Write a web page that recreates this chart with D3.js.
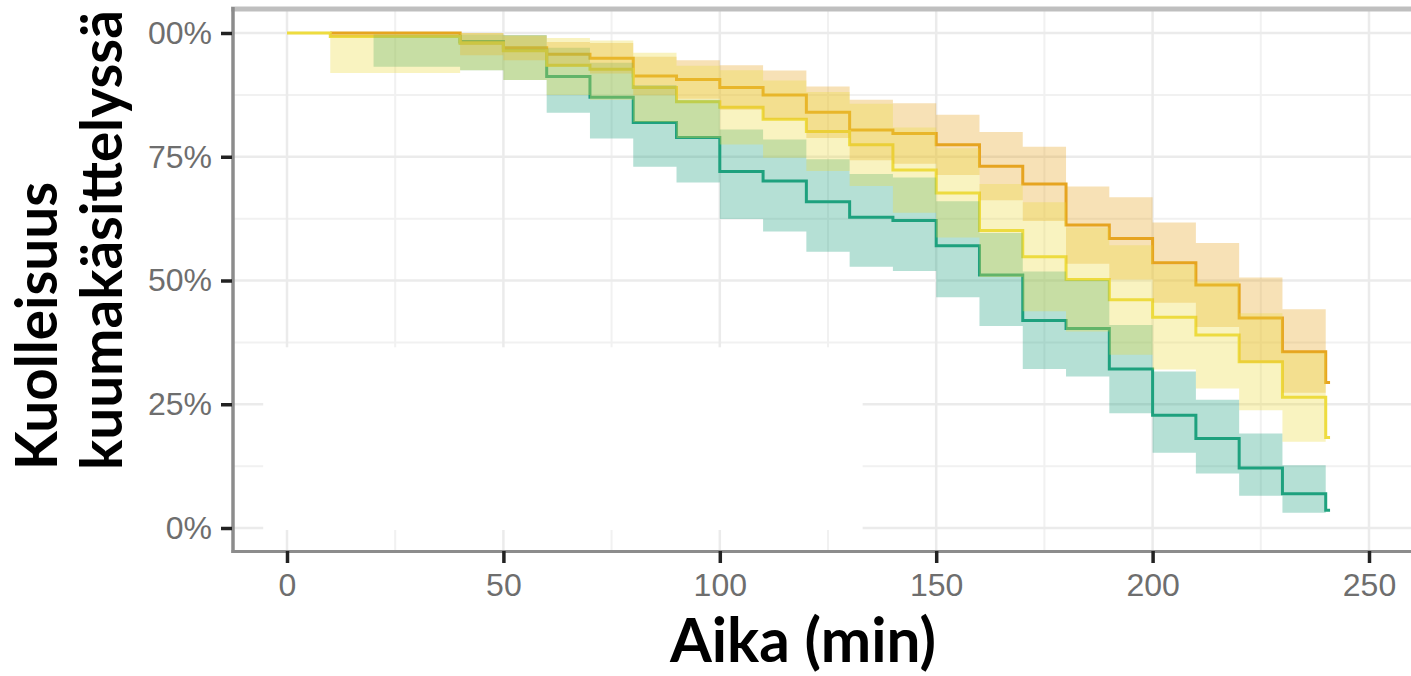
<!DOCTYPE html>
<html>
<head>
<meta charset="utf-8">
<script src="https://cdn.jsdelivr.net/npm/d3@7"></script>
<style>
  body { margin: 0; background: #fff; }
  svg { display: block; }
  .tick text { font-family: "Liberation Sans", Arial, sans-serif; fill: #6e6e6e; }
  .title { font-family: Lato, "Open Sans", sans-serif; font-weight: 700; fill: #000; }
</style>
</head>
<body>
<div id="chart"></div>
<script>
// axis ticks
var xTicks = [0, 50, 100, 150, 200, 250];
var xMinor = [25, 75, 125, 175, 225];
var yTicks = [0, 0.25, 0.5, 0.75, 1];
var yMinor = [0.125, 0.375, 0.625, 0.875];
var yTickLabels = ['0%', '25%', '50%', '75%', '100%'];

// green group (survival %, with confidence band)
var greenTime  = [20, 40, 50, 60, 70, 80, 90, 100, 110, 120, 130, 140, 150, 160, 170, 180, 190, 200, 210, 220, 230, 240];
var greenSurv  = [99.3, 98.3, 96.5, 91.2, 87.0, 81.9, 78.9, 72.0, 70.1, 65.9, 62.8, 62.1, 57.0, 51.1, 41.9, 40.3, 32.1, 22.8, 18.1, 12.1, 6.9, 3.6];
var greenUpper = [99.7, 99.7, 99.6, 97.0, 94.0, 89.5, 86.5, 80.5, 78.5, 74.5, 71.5, 70.8, 66.0, 59.6, 51.8, 50.1, 41.0, 31.6, 25.9, 19.1, 12.7, 3.6];
var greenLower = [93.2, 92.5, 90.5, 83.9, 78.7, 73.0, 69.8, 62.4, 59.9, 55.8, 52.8, 51.9, 46.6, 40.8, 32.1, 30.6, 23.2, 15.2, 11.0, 6.5, 3.1, 3.6];

// orange group
var orangeTime  = [10, 40, 50, 60, 70, 80, 90, 100, 110, 120, 130, 140, 150, 160, 170, 180, 190, 200, 210, 220, 230, 240];
var orangeSurv  = [100, 98.0, 97.0, 95.7, 94.9, 91.3, 90.6, 89.0, 87.5, 84.0, 80.4, 79.7, 77.4, 73.1, 69.5, 61.2, 58.5, 53.6, 49.1, 42.4, 35.6, 29.4];
var orangeUpper = [100, 100, 99.5, 98.2, 98.0, 95.2, 94.5, 93.5, 92.4, 89.2, 86.5, 85.8, 83.5, 80.0, 77.0, 69.0, 66.8, 61.7, 57.6, 50.6, 44.2, 29.4];
var orangeLower = [99.2, 95.5, 94.5, 93.2, 91.8, 87.4, 86.7, 84.5, 82.6, 78.8, 74.3, 73.6, 71.3, 66.2, 62.0, 53.4, 50.2, 45.5, 40.6, 33.4, 27.3, 29.4];

// yellow group
var yellowTime  = [0, 10, 40, 50, 60, 70, 80, 90, 100, 110, 120, 130, 140, 150, 160, 170, 180, 190, 200, 210, 220, 230, 240];
var yellowSurv  = [100, 99.3, 98.0, 96.4, 93.5, 92.7, 89.0, 86.1, 85.0, 82.6, 80.1, 77.4, 72.3, 67.7, 60.1, 54.8, 50.2, 46.1, 42.6, 39.0, 33.6, 26.4, 18.3];
var yellowUpper = [100, 99.7, 100, 99.5, 99.0, 98.5, 96.0, 93.4, 92.5, 90.4, 88.1, 85.7, 80.9, 76.7, 69.5, 65.8, 60.7, 57.1, 53.2, 49.8, 43.4, 35.4, 18.3];
var yellowLower = [100, 91.9, 92.5, 90.5, 87.5, 86.5, 82.0, 78.8, 77.5, 74.8, 72.1, 69.1, 63.7, 58.7, 50.7, 43.8, 39.7, 35.0, 32.0, 28.2, 23.8, 17.4, 18.3];

var lastTime = 241; // short tail after the final step

var series = [
  {name: 'green',  color: '#1fa27e', time: greenTime,  surv: greenSurv,  upper: greenUpper,  lower: greenLower},
  {name: 'orange', color: '#e6a520', time: orangeTime, surv: orangeSurv, upper: orangeUpper, lower: orangeLower},
  {name: 'yellow', color: '#eedc3f', time: yellowTime, surv: yellowSurv, upper: yellowUpper, lower: yellowLower}
];

var width = 1411, height = 676;
var panel = {left: 233, top: 9, bottom: 551.5, right: 1411};

var x = d3.scaleLinear().domain([0, 250]).range([287, 1369]),
    y = d3.scaleLinear().domain([0, 1]).range([528, 33]);

var svg = d3.select('#chart')
            .append('svg')
            .attr('width', width)
            .attr('height', height);

// grid
var grid = svg.append('g').attr('class', 'grid');

grid.selectAll('.vminor')
    .data(xMinor)
    .enter()
    .append('line')
    .attr('x1', function(d) { return x(d); })
    .attr('x2', function(d) { return x(d); })
    .attr('y1', panel.top)
    .attr('y2', panel.bottom)
    .attr('stroke', '#f1f1f1')
    .attr('stroke-width', 2);

grid.selectAll('.hminor')
    .data(yMinor)
    .enter()
    .append('line')
    .attr('x1', panel.left)
    .attr('x2', panel.right)
    .attr('y1', function(d) { return y(d); })
    .attr('y2', function(d) { return y(d); })
    .attr('stroke', '#f1f1f1')
    .attr('stroke-width', 2);

grid.selectAll('.vmajor')
    .data(xTicks)
    .enter()
    .append('line')
    .attr('x1', function(d) { return x(d); })
    .attr('x2', function(d) { return x(d); })
    .attr('y1', panel.top)
    .attr('y2', panel.bottom)
    .attr('stroke', '#ebebeb')
    .attr('stroke-width', 2.5);

grid.selectAll('.hmajor')
    .data(yTicks)
    .enter()
    .append('line')
    .attr('x1', panel.left)
    .attr('x2', panel.right)
    .attr('y1', function(d) { return y(d); })
    .attr('y2', function(d) { return y(d); })
    .attr('stroke', '#ebebeb')
    .attr('stroke-width', 2.5);

// empty legend box covering the lower left of the panel
svg.append('rect')
   .attr('x', x(-5.5))
   .attr('y', y(0.365))
   .attr('width', x(133) - x(-5.5))
   .attr('height', y(-0.004) - y(0.365))
   .attr('fill', '#fff');

var line = d3.line()
             .curve(d3.curveStepAfter)
             .x(function(d) { return x(d[0]); })
             .y(function(d) { return y(d[1] / 100); });

var area = d3.area()
             .curve(d3.curveStepAfter)
             .x(function(d) { return x(d[0]); })
             .y0(function(d) { return y(d[1] / 100); })
             .y1(function(d) { return y(d[2] / 100); });

// step lines first, confidence bands drawn over them
svg.append('g')
   .attr('class', 'lines')
   .selectAll('path')
   .data(series)
   .enter()
   .append('path')
   .attr('fill', 'none')
   .attr('stroke', function(s) { return s.color; })
   .attr('stroke-width', 3)
   .attr('d', function(s) {
     var pts = s.time.map(function(t, i) { return [t, s.surv[i]]; });
     pts.push([lastTime, s.surv[s.surv.length - 1]]);
     return line(pts);
   });

svg.append('g')
   .attr('class', 'bands')
   .selectAll('path')
   .data(series)
   .enter()
   .append('path')
   .attr('fill', function(s) { return s.color; })
   .attr('fill-opacity', 0.33)
   .attr('d', function(s) {
     return area(s.time.map(function(t, i) { return [t, s.lower[i], s.upper[i]]; }));
   });

// panel borders
svg.append('line')
   .attr('x1', panel.left - 2).attr('x2', panel.right)
   .attr('y1', panel.top).attr('y2', panel.top)
   .attr('stroke', '#bfbfbf').attr('stroke-width', 5);

svg.append('line')
   .attr('x1', panel.left).attr('x2', panel.left)
   .attr('y1', panel.top - 2).attr('y2', panel.bottom + 1.5)
   .attr('stroke', '#8c8c8c').attr('stroke-width', 3.5);

svg.append('line')
   .attr('x1', panel.left - 1.5).attr('x2', panel.right)
   .attr('y1', panel.bottom).attr('y2', panel.bottom)
   .attr('stroke', '#8c8c8c').attr('stroke-width', 3);

// axes
var xAxis = d3.axisBottom(x)
              .tickValues(xTicks)
              .tickSize(12)
              .tickPadding(10)
              .tickFormat(d3.format('d'));

var yAxis = d3.axisLeft(y)
              .tickValues(yTicks)
              .tickSize(11)
              .tickPadding(9)
              .tickFormat(function(d, i) { return yTickLabels[i]; });

var gx = svg.append('g')
            .attr('class', 'x axis')
            .attr('transform', 'translate(0,' + (panel.bottom - 0.5) + ')')
            .call(xAxis);

var gy = svg.append('g')
            .attr('class', 'y axis')
            .attr('transform', 'translate(' + (panel.left - 1) + ',0)')
            .call(yAxis);

// the left edge of the tick labels is trimmed as in the reference
svg.append('clipPath')
   .attr('id', 'ylab-clip')
   .append('rect')
   .attr('x', 148 - (panel.left - 1)).attr('y', -40)
   .attr('width', 200).attr('height', 80);

[gx, gy].forEach(function(g) {
  g.select('.domain').remove();
  g.selectAll('.tick line').attr('stroke', '#222').attr('stroke-width', 3.5);
  g.selectAll('.tick text').style('font-size', '32px');
});
gy.selectAll('.tick text').attr('clip-path', 'url(#ylab-clip)');

// titles, sized to the reference's text extents
function fit(sel, target) {
  var len = sel.node().getComputedTextLength();
  var size = parseFloat(sel.style('font-size'));
  sel.style('font-size', (size * target / len) + 'px');
  return size * target / len;
}

var xTitle = svg.append('text')
                .attr('class', 'title')
                .attr('x', 803)
                .attr('y', 662)
                .attr('text-anchor', 'middle')
                .style('font-size', '50px')
                .text('Aika (min)');
fit(xTitle, 266);

var yTitle2 = svg.append('text')
                 .attr('class', 'title')
                 .attr('transform', 'translate(122,470) rotate(-90)')
                 .style('font-size', '50px')
                 .text('kuumakäsittelyssä');
var ySize = fit(yTitle2, 460);

svg.append('text')
   .attr('class', 'title')
   .attr('transform', 'translate(57,470) rotate(-90)')
   .style('font-size', ySize + 'px')
   .text('Kuolleisuus');
</script>
</body>
</html>
